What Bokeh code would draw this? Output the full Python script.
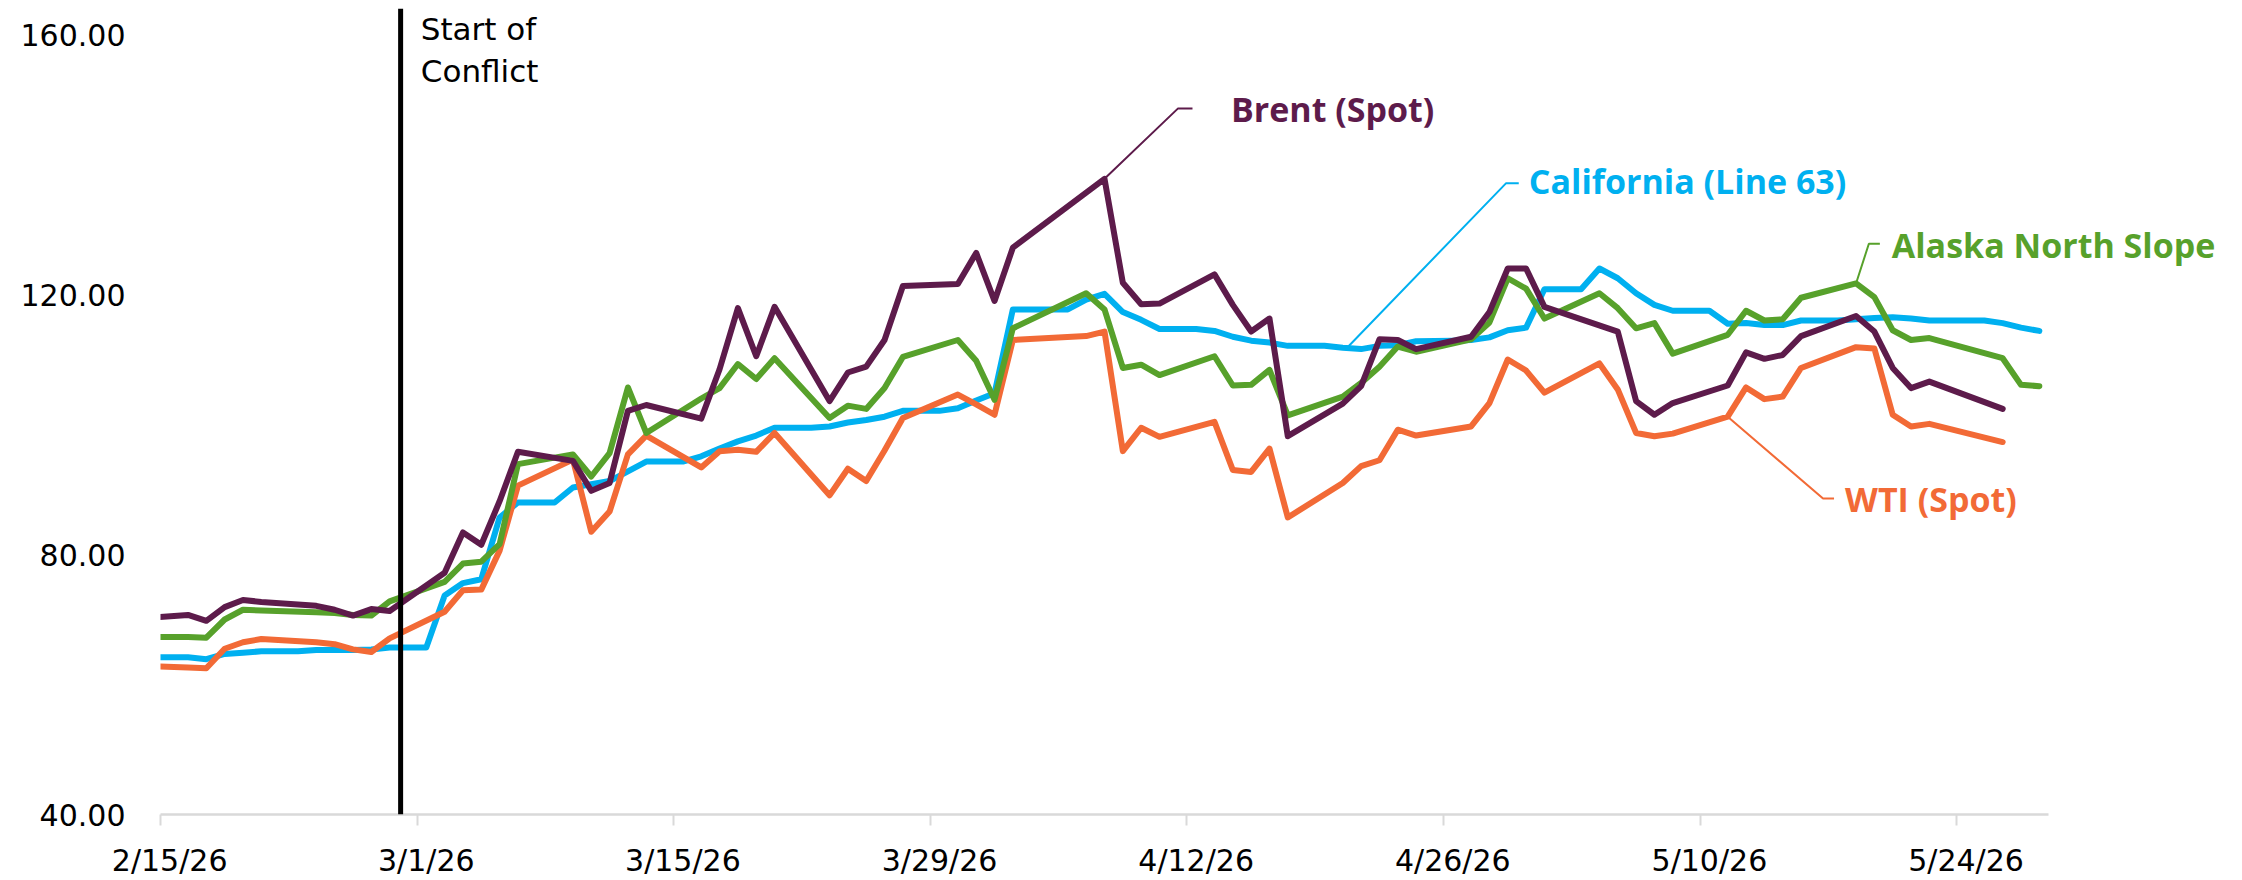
import pandas as pd
from bokeh.plotting import figure
from bokeh.models import FixedTicker, LinearAxis, Span, Label, NumeralTickFormatter
from bokeh.embed import file_html
from bokeh.resources import INLINE

# ---------------- data ----------------
dates = [
    "2026-02-13", "2026-02-15", "2026-02-16", "2026-02-17", "2026-02-18", "2026-02-19", "2026-02-20",
    "2026-02-22", "2026-02-23", "2026-02-24", "2026-02-25", "2026-02-26", "2026-02-27",
    "2026-03-01", "2026-03-02", "2026-03-03", "2026-03-04", "2026-03-05", "2026-03-06",
    "2026-03-08", "2026-03-09", "2026-03-10", "2026-03-11", "2026-03-12", "2026-03-13",
    "2026-03-15", "2026-03-16", "2026-03-17", "2026-03-18", "2026-03-19", "2026-03-20",
    "2026-03-22", "2026-03-23", "2026-03-24", "2026-03-25", "2026-03-26", "2026-03-27",
    "2026-03-29", "2026-03-30", "2026-03-31", "2026-04-01", "2026-04-02",
    "2026-04-05", "2026-04-06", "2026-04-07", "2026-04-08", "2026-04-09", "2026-04-10",
    "2026-04-12", "2026-04-13", "2026-04-14", "2026-04-15", "2026-04-16", "2026-04-17",
    "2026-04-19", "2026-04-20", "2026-04-21", "2026-04-22", "2026-04-23", "2026-04-24",
    "2026-04-26", "2026-04-27", "2026-04-28", "2026-04-29", "2026-04-30", "2026-05-01",
    "2026-05-03", "2026-05-04", "2026-05-05", "2026-05-06", "2026-05-07", "2026-05-08",
    "2026-05-10", "2026-05-11", "2026-05-12", "2026-05-13", "2026-05-14", "2026-05-15",
    "2026-05-17", "2026-05-18", "2026-05-19", "2026-05-20", "2026-05-21", "2026-05-22",
    "2026-05-24", "2026-05-25", "2026-05-26", "2026-05-27", "2026-05-28",
]
N = None
brent = [
    70.1, N, 70.7, 69.8, 71.9, 73.0, 72.7,
    N, 72.1, 71.5, 70.6, 71.6, 71.3,
    N, 77.2, 83.4, 81.5, 88.2, 95.8,
    N, 94.4, 89.8, 91.0, 102.1, 103.0,
    N, 100.9, 108.5, 117.9, 110.5, 118.1,
    N, 103.6, 108.0, 108.9, 113.0, 121.3,
    N, 121.6, 126.4, 119.0, 127.2,
    N, N, 137.8, 121.8, 118.5, 118.6,
    N, 123.1, 118.4, 114.3, 116.3, 98.2,
    N, 103.2, 105.9, 113.1, 113.0, 111.6,
    N, 113.5, 117.3, 124.0, 124.0, 118.1,
    N, N, 114.3, 103.6, 101.5, 103.3,
    N, 106.0, 111.1, 110.1, 110.7, 113.6,
    N, 116.7, 114.3, 108.7, 105.6, 106.6,
    N, N, 102.4, N, N,
]
wti = [
    62.9, N, 62.6, 62.5, 65.5, 66.5, 67.0,
    N, 66.5, 66.2, 65.4, 65.0, 67.1,
    N, 71.2, 74.5, 74.6, 80.6, 90.6,
    N, 94.6, 83.5, 86.6, 95.4, 98.3,
    N, 93.4, 95.9, 96.1, 95.8, 98.7,
    N, 89.1, 93.2, 91.3, 96.0, 101.0,
    N, 104.6, 103.1, 101.5, 113.0,
    N, 113.6, 114.3, 95.9, 99.5, 98.1,
    N, 100.4, 93.0, 92.7, 96.3, 85.7,
    N, 91.0, 93.6, 94.5, 99.2, 98.3,
    N, 99.7, 103.3, 110.0, 108.3, 104.9,
    N, 109.4, 105.4, 98.7, 98.2, 98.6,
    N, 101.2, 105.7, 103.9, 104.3, 108.7,
    N, 111.9, 111.7, 101.5, 99.7, 100.1,
    N, N, 97.3, N, N,
]
ans = [
    67.3, N, 67.3, 67.2, 70.0, 71.5, 71.4,
    N, 71.1, 71.0, 70.7, 70.6, 72.8,
    N, 75.8, 78.6, 78.9, 81.6, 93.9,
    N, 95.4, 92.0, 95.6, 105.7, 98.7,
    N, 104.0, 105.6, 109.3, 107.0, 110.2,
    N, 101.0, 102.9, 102.4, 105.6, 110.4,
    N, 113.0, 109.8, 103.8, 114.8,
    N, 120.2, 117.7, 108.7, 109.2, 107.6,
    N, 110.5, 106.0, 106.1, 108.4, 101.4,
    N, 104.3, 106.4, 108.9, 112.0, 111.2,
    N, 113.1, 115.7, 122.5, 120.9, 116.3,
    N, 120.2, 117.9, 114.8, 115.6, 110.9,
    N, 113.8, 117.5, 116.0, 116.2, 119.5,
    N, 121.7, 119.6, 114.5, 113.0, 113.3,
    N, N, 110.2, 106.1, 105.9,
]
cal = [
    64.2, 64.2, 64.2, 63.9, 64.7, 64.9, 65.1,
    65.1, 65.3, 65.3, 65.3, 65.4, 65.7,
    65.7, 73.7, 75.6, 76.2, 85.7, 88.0,
    88.0, 90.3, 90.8, 91.3, 92.8, 94.3,
    94.3, 95.1, 96.3, 97.4, 98.3, 99.5,
    99.5, 99.7, 100.3, 100.7, 101.2, 102.1,
    102.1, 102.5, 103.7, 104.8, 117.7,
    117.7, 119.2, 120.1, 117.3, 116.1, 114.7,
    114.7, 114.4, 113.5, 112.9, 112.6, 112.1,
    112.1, 111.8, 111.6, 112.1, 112.2, 112.8,
    112.9, 113.0, 113.4, 114.5, 114.9, 120.8,
    120.8, 124.0, 122.5, 120.2, 118.4, 117.5,
    117.5, 115.5, 115.6, 115.3, 115.3, 116.0,
    116.0, 116.2, 116.4, 116.5, 116.3, 116.0,
    116.0, 116.0, 115.6, 114.9, 114.4,
]

series_names = ["California (Line 63)", "WTI (Spot)", "Alaska North Slope", "Brent (Spot)"]
series_values = [cal, wti, ans, brent]
series_colors = ["#00B0F0", "#F26A36", "#57A12B", "#5D1B4B"]

x_tick_dates = ["2026-02-15", "2026-03-01", "2026-03-15", "2026-03-29",
                "2026-04-12", "2026-04-26", "2026-05-10", "2026-05-24"]
x_tick_labels = ["2/15/26", "3/1/26", "3/15/26", "3/29/26",
                 "4/12/26", "4/26/26", "5/10/26", "5/24/26"]
y_ticks = [40, 80, 120, 160]
axis_start = "2026-02-15"
axis_end = "2026-05-29"
conflict_date = "2026-02-28"

# ---------------- helpers ----------------
origin = pd.Timestamp(axis_start)
DAY = pd.Timedelta(days=1)


def day_of(d):
    return (pd.Timestamp(d) - origin) / DAY


# Excel "between tick marks": each date sits in the middle of its day slot
xs_all = [day_of(d) + 0.5 for d in dates]
tick_days = [day_of(d) for d in x_tick_dates]
axis_days = day_of(axis_end)

W, H = 2242, 880
LEFT, TOP, BOTTOM = 160, 8, 65
axis_px = 1888                      # drawn length of the x axis line
frame_px = W - LEFT                 # frame runs to the right edge so labels are not clipped
x_view_end = axis_days * frame_px / axis_px

AX_FONT = "DejaVu Sans"
LBL_FONT = "Open Sans"

p = figure(width=W, height=H,
           x_range=(0, x_view_end), y_range=(40, 164.0),
           output_backend="svg", toolbar_location=None,
           min_border_left=LEFT, min_border_right=0,
           min_border_top=TOP, min_border_bottom=BOTTOM)
p.background_fill_color = "white"
p.border_fill_color = "white"
p.outline_line_color = None
p.xgrid.visible = False
p.ygrid.visible = False

# lines
for name, vals, col in zip(series_names, series_values, series_colors):
    px = [x for x, v in zip(xs_all, vals) if v is not None]
    py = [v for v in vals if v is not None]
    p.line(px, py, line_width=6, line_color=col, line_join="round", line_cap="round")

# start of conflict line
p.add_layout(Span(location=day_of(conflict_date) + 0.1, dimension="height",
                  line_color="black", line_width=5))
p.add_layout(Label(x=day_of(conflict_date) + 1.2, y=160.9, text="Start of",
                   text_font=AX_FONT, text_font_size="31px", text_color="black",
                   text_baseline="middle", text_align="left"))
p.add_layout(Label(x=day_of(conflict_date) + 1.2, y=154.4, text="Conflict",
                   text_font=AX_FONT, text_font_size="31px", text_color="black",
                   text_baseline="middle", text_align="left"))

# series labels with leader lines (positions in day offsets / price units)
annotations = [
    ("Brent (Spot)", "#5D1B4B", [51.5, 55.5, 56.3], [137.8, 148.6, 148.6], 58.4, 148.5),
    ("California (Line 63)", "#00B0F0", [64.8, 73.4, 74.1], [112.0, 137.1, 137.1], 74.65, 137.4),
    ("Alaska North Slope", "#57A12B", [92.5, 93.2, 93.8], [121.7, 127.8, 127.8], 94.45, 127.6),
    ("WTI (Spot)", "#F26A36", [85.5, 90.7, 91.3], [101.2, 88.6, 88.6], 91.9, 88.6),
]
for text, col, lx, ly, tx, ty in annotations:
    p.line(lx, ly, line_width=2, line_color=col)
    p.add_layout(Label(x=tx, y=ty, text=text, text_font=LBL_FONT, text_font_style="bold",
                       text_font_size="34px", text_color=col,
                       text_baseline="middle", text_align="left"))

# x axis: line and tick marks at day boundaries
xa = p.xaxis[0]
xa.bounds = (0, axis_days)
xa.ticker = FixedTicker(ticks=tick_days)
xa.major_label_overrides = {t: "" for t in tick_days}
xa.major_label_text_font_size = "0px"
xa.major_label_standoff = 0
xa.axis_line_color = "#D9D9D9"
xa.axis_line_width = 2.5
xa.major_tick_line_color = "#D9D9D9"
xa.major_tick_line_width = 2
xa.major_tick_out = 11
xa.major_tick_in = 0
xa.minor_tick_line_color = None

# x labels centered within the day slot
lab_pos = [t + 0.5 for t in tick_days]
xl = LinearAxis(ticker=FixedTicker(ticks=lab_pos),
                major_label_overrides={t: s for t, s in zip(lab_pos, x_tick_labels)},
                axis_line_color=None, major_tick_line_color=None,
                minor_tick_line_color=None, major_tick_out=0, major_tick_in=0,
                major_label_standoff=17,
                major_label_text_font=AX_FONT, major_label_text_font_size="30px",
                major_label_text_color="black")
p.add_layout(xl, "below")

# y axis
ya = p.yaxis[0]
ya.ticker = FixedTicker(ticks=y_ticks)
ya.formatter = NumeralTickFormatter(format="0.00")
ya.axis_line_color = None
ya.major_tick_line_color = None
ya.minor_tick_line_color = None
ya.major_tick_out = 0
ya.major_tick_in = 0
ya.major_label_standoff = 35
ya.major_label_text_font = AX_FONT
ya.major_label_text_font_size = "30px"
ya.major_label_text_color = "black"

open("out.html", "w").write(file_html(p, INLINE))
